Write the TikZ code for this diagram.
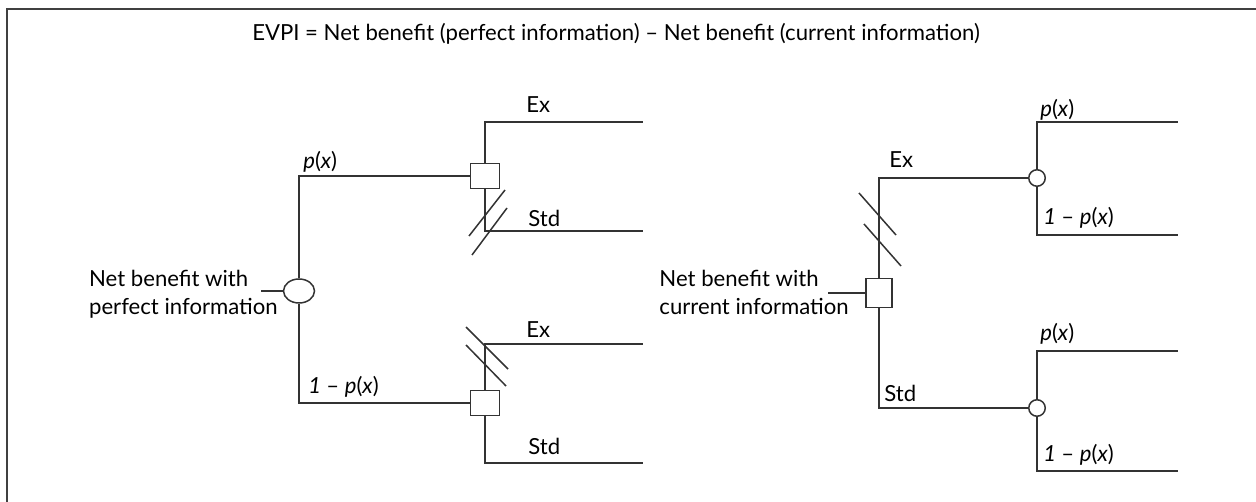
\documentclass[tikz,border=0pt]{standalone}
\usepackage{fontspec}
\setmainfont{Lato}
\usetikzlibrary{shapes.geometric}
\tikzset{
  branch/.style={draw=black!80, line width=0.03cm},
  decbox/.style={draw=black!80, line width=0.03cm, fill=white, rectangle, inner sep=0pt, minimum width=0.58cm, minimum height=0.5cm},
  chance/.style={draw=black!80, line width=0.03cm, fill=white, circle, inner sep=0pt, minimum size=0.33cm},
  rootchance/.style={draw=black!80, line width=0.03cm, fill=white, ellipse, inner sep=0pt, minimum width=0.62cm, minimum height=0.48cm},
  lbl/.style={anchor=west, inner sep=0pt, font=\fontsize{12.6}{16}\selectfont},
  prob/.style={lbl, font=\fontsize{12.6}{16}\selectfont\itshape}
}
\begin{document}
\begin{tikzpicture}[x=0.02cm, y=-0.02cm]
  \useasboundingbox (0,0) rectangle (1256,502);
  % frame
  \draw[black!75, line width=0.04cm] (1256,9) -- (7,9) -- (7,502);
  \node[lbl, anchor=center] (title) at (616,34) {EVPI = Net benefit (perfect information) -- Net benefit (current information)};

  % perfect information tree
  \node[lbl, align=left, anchor=base east] (pitext) at (278,315) {Net benefit with\\perfect information};
  \coordinate (pi-in) at (261,291);
  \node[rootchance] (pi) at (299,291) {};
  \node[decbox] (dtop) at (485,176) {};
  \node[decbox] (dbot) at (485,403) {};
  \coordinate (ex1) at (643,122);
  \coordinate (std1) at (643,231);
  \coordinate (ex2) at (643,344);
  \coordinate (std2) at (643,463);
  \draw[branch] (pi-in) -- (pi.west);
  \draw[branch] (pi.north) |- (dtop.west);
  \draw[branch] (pi.south) |- (dbot.west);
  \draw[branch] (dtop.north) |- (ex1);
  \draw[branch] (dtop.south) |- (std1);
  \draw[branch] (dbot.north) |- (ex2);
  \draw[branch] (dbot.south) |- (std2);
  \draw[branch] (469,236) -- (505,190);
  \draw[branch] (472,255) -- (507,208);
  \draw[branch] (466,327) -- (508,369);
  \draw[branch] (466,345) -- (506,386);
  \node[prob] (pi-p) at (303,162) {p\upshape(\itshape x\upshape)};
  \node[prob] (pi-q) at (308,387) {1 \upshape-- \itshape p\upshape(\itshape x\upshape)};
  \node[lbl] (ex1-l) at (526,105) {Ex};
  \node[lbl] (std1-l) at (528,218) {Std};
  \node[lbl] (ex2-l) at (526,330) {Ex};
  \node[lbl] (std2-l) at (528,446) {Std};

  % current information tree
  \node[lbl, align=left, anchor=base east] (citext) at (849,315) {Net benefit with\\current information};
  \coordinate (ci-in) at (828,293);
  \node[decbox, minimum width=0.52cm, minimum height=0.58cm] (dcur) at (879,293) {};
  \node[chance] (cup) at (1037,178) {};
  \node[chance] (cdn) at (1037,408) {};
  \coordinate (cup-p) at (1178,122);
  \coordinate (cup-q) at (1178,235);
  \coordinate (cdn-p) at (1178,351);
  \coordinate (cdn-q) at (1178,471);
  \draw[branch] (ci-in) -- (dcur.west);
  \draw[branch] (dcur.north) |- (cup.west);
  \draw[branch] (dcur.south) |- (cdn.west);
  \draw[branch] (cup.north) |- (cup-p);
  \draw[branch] (cup.south) |- (cup-q);
  \draw[branch] (cdn.north) |- (cdn-p);
  \draw[branch] (cdn.south) |- (cdn-q);
  \draw[branch] (859,193) -- (896,235);
  \draw[branch] (864,224) -- (901,266);
  \node[lbl] (ex3-l) at (889,160) {Ex};
  \node[lbl] (std3-l) at (884,393) {Std};
  \node[prob] (cup-pl) at (1040,110) {p\upshape(\itshape x\upshape)};
  \node[prob] (cup-ql) at (1043,218) {1 \upshape-- \itshape p\upshape(\itshape x\upshape)};
  \node[prob] (cdn-pl) at (1040,334) {p\upshape(\itshape x\upshape)};
  \node[prob] (cdn-ql) at (1043,455) {1 \upshape-- \itshape p\upshape(\itshape x\upshape)};
\end{tikzpicture}
\end{document}
